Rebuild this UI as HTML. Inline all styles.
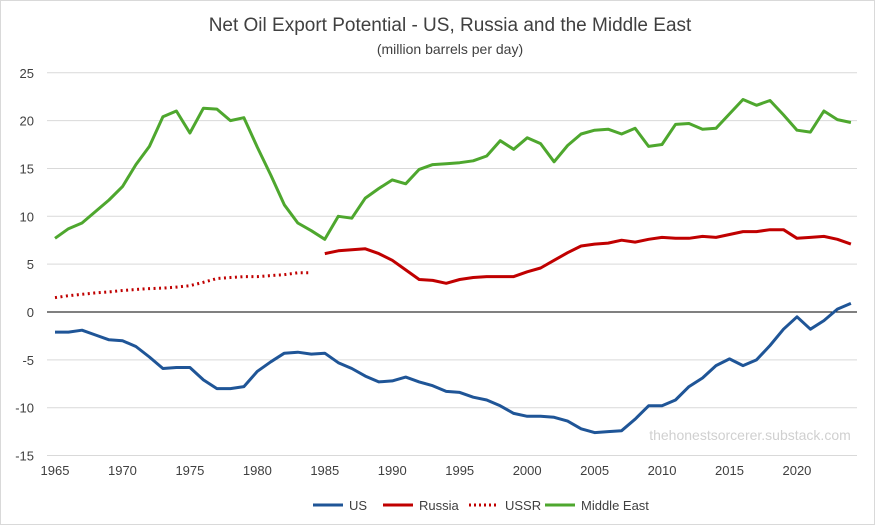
<!DOCTYPE html>
<html><head><meta charset="utf-8"><style>
body{margin:0;background:#fff;}
svg{display:block;font-family:"Liberation Sans",sans-serif;}
</style></head><body>
<svg id="c" width="875" height="525" xmlns="http://www.w3.org/2000/svg">
<rect x="0.5" y="0.5" width="874" height="524" fill="#fff" stroke="#d9d9d9"/>
<text x="450" y="31" font-size="19" fill="#404040" text-anchor="middle">Net Oil Export Potential - US, Russia and the Middle East</text>
<text x="450" y="54" font-size="14" fill="#404040" text-anchor="middle">(million barrels per day)</text>
<g id="g"></g>
<text x="750" y="440" font-size="14" fill="#d0d0d0" text-anchor="middle">thehonestsorcerer.substack.com</text>
<g font-size="13" fill="#404040">
<line x1="313" y1="505" x2="343" y2="505" stroke="#1f5597" stroke-width="3"/><text x="349" y="510">US</text>
<line x1="383" y1="505" x2="413" y2="505" stroke="#c00000" stroke-width="3"/><text x="419" y="510">Russia</text>
<line x1="469" y1="505" x2="499" y2="505" stroke="#c00000" stroke-width="3" stroke-dasharray="2,3"/><text x="505" y="510">USSR</text>
<line x1="545" y1="505" x2="575" y2="505" stroke="#4ea72e" stroke-width="3"/><text x="581" y="510">Middle East</text>
</g>
</svg>
<script>
const g=document.getElementById('g');
const X=y=>55+(y-1965)*13.49, Y=v=>312-v*9.57;
let h='';
for(let v=-15;v<=25;v+=5){const y=Y(v);
 h+=`<line x1="47" x2="857" y1="${y}" y2="${y}" stroke="${v==0?'#000':'#d9d9d9'}" stroke-width="1"/>`;
 h+=`<text x="34" y="${y+5}" font-size="13" fill="#404040" text-anchor="end">${v}</text>`;}
for(let yr=1965;yr<=2020;yr+=5) h+=`<text x="${X(yr)}" y="475" font-size="13" fill="#404040" text-anchor="middle">${yr}</text>`;
function line(start,d,col,dash){let p=d.map((v,i)=>X(start+i).toFixed(1)+','+Y(v).toFixed(1)).join(' ');
 h+=`<polyline points="${p}" fill="none" stroke="${col}" stroke-width="3" stroke-linejoin="round" ${dash?'stroke-dasharray="2,3.5"':''}/>`;}
line(1965,[-2.1,-2.1,-1.9,-2.4,-2.9,-3.0,-3.6,-4.7,-5.9,-5.8,-5.8,-7.1,-8.0,-8.0,-7.8,-6.2,-5.2,-4.3,-4.2,-4.4,-4.3,-5.3,-5.9,-6.7,-7.3,-7.2,-6.8,-7.3,-7.7,-8.3,-8.4,-8.9,-9.2,-9.8,-10.6,-10.9,-10.9,-11.0,-11.4,-12.2,-12.6,-12.5,-12.4,-11.2,-9.8,-9.8,-9.2,-7.8,-6.9,-5.6,-4.9,-5.6,-5.0,-3.5,-1.8,-0.5,-1.8,-0.9,0.3,0.9],'#1f5597');
line(1985,[6.1,6.4,6.5,6.6,6.1,5.4,4.4,3.4,3.3,3.0,3.4,3.6,3.7,3.7,3.7,4.2,4.6,5.4,6.2,6.9,7.1,7.2,7.5,7.3,7.6,7.8,7.7,7.7,7.9,7.8,8.1,8.4,8.4,8.6,8.6,7.7,7.8,7.9,7.6,7.1],'#c00000');
line(1965,[1.5,1.7,1.85,2.0,2.1,2.25,2.35,2.45,2.5,2.6,2.75,3.1,3.5,3.6,3.7,3.7,3.8,3.9,4.1,4.1],'#c00000',1);
line(1965,[7.7,8.7,9.3,10.5,11.7,13.1,15.4,17.3,20.4,21.0,18.7,21.3,21.2,20.0,20.3,17.2,14.3,11.2,9.3,8.5,7.6,10.0,9.8,11.9,12.9,13.8,13.4,14.9,15.4,15.5,15.6,15.8,16.3,17.9,17.0,18.2,17.6,15.7,17.4,18.6,19.0,19.1,18.6,19.2,17.3,17.5,19.6,19.7,19.1,19.2,20.7,22.2,21.6,22.1,20.6,19.0,18.8,21.0,20.1,19.8],'#4ea72e');
g.innerHTML=h;
</script>
</body></html>
